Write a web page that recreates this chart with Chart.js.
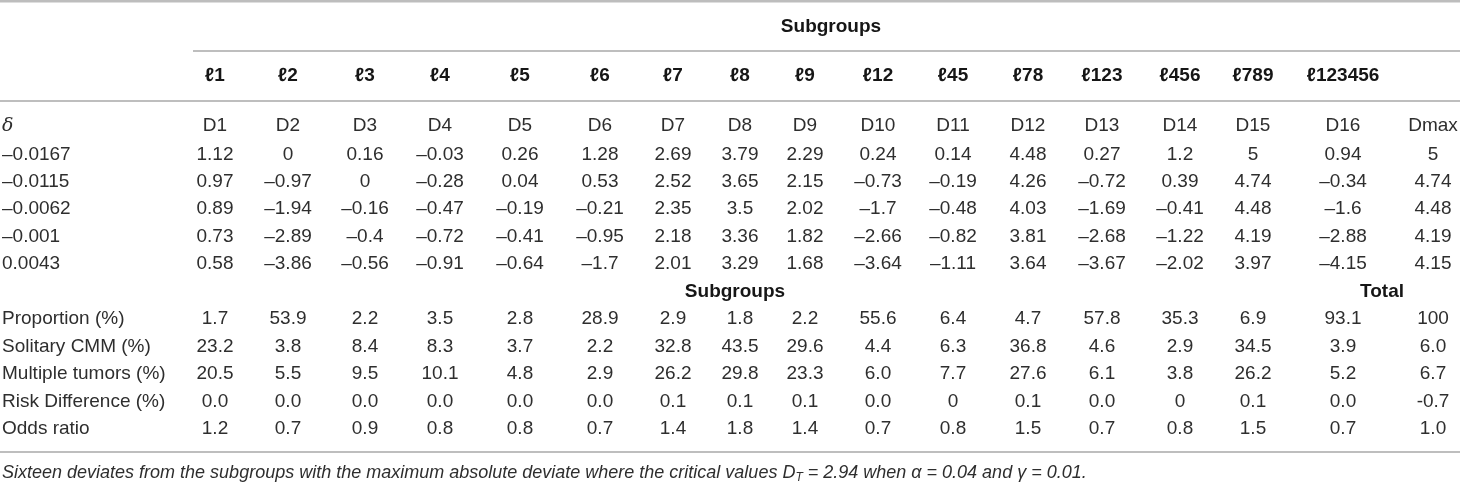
<!DOCTYPE html>
<html>
<head>
<meta charset="utf-8">
<script src="https://cdn.jsdelivr.net/npm/chart.js@4.4.1/dist/chart.umd.min.js"></script>
<style>
  html, body { margin: 0; padding: 0; background: #fff; }
  canvas { display: block; }
</style>
</head>
<body>
<canvas id="tabla" width="1460" height="484"></canvas>
<script>
// ---- datos de la tabla ----
const subgrupos = ["ℓ1", "ℓ2", "ℓ3", "ℓ4", "ℓ5", "ℓ6", "ℓ7", "ℓ8", "ℓ9", "ℓ12", "ℓ45", "ℓ78", "ℓ123", "ℓ456", "ℓ789", "ℓ123456", ""];
const desvios = ["D1", "D2", "D3", "D4", "D5", "D6", "D7", "D8", "D9", "D10", "D11", "D12", "D13", "D14", "D15", "D16", "Dmax"];
const deltas = ["–0.0167", "–0.0115", "–0.0062", "–0.001", "0.0043"];

const filaD1 = [1.12, 0, 0.16, -0.03, 0.26, 1.28, 2.69, 3.79, 2.29, 0.24, 0.14, 4.48, 0.27, 1.2, 5, 0.94, 5];
const filaD2 = [0.97, -0.97, 0, -0.28, 0.04, 0.53, 2.52, 3.65, 2.15, -0.73, -0.19, 4.26, -0.72, 0.39, 4.74, -0.34, 4.74];
const filaD3 = [0.89, -1.94, -0.16, -0.47, -0.19, -0.21, 2.35, 3.5, 2.02, -1.7, -0.48, 4.03, -1.69, -0.41, 4.48, -1.6, 4.48];
const filaD4 = [0.73, -2.89, -0.4, -0.72, -0.41, -0.95, 2.18, 3.36, 1.82, -2.66, -0.82, 3.81, -2.68, -1.22, 4.19, -2.88, 4.19];
const filaD5 = [0.58, -3.86, -0.56, -0.91, -0.64, -1.7, 2.01, 3.29, 1.68, -3.64, -1.11, 3.64, -3.67, -2.02, 3.97, -4.15, 4.15];

const etiquetasStats = ["Proportion (%)", "Solitary CMM (%)", "Multiple tumors (%)", "Risk Difference (%)", "Odds ratio"];
const proporcion = ["1.7", "53.9", "2.2", "3.5", "2.8", "28.9", "2.9", "1.8", "2.2", "55.6", "6.4", "4.7", "57.8", "35.3", "6.9", "93.1", "100"];
const solitario = ["23.2", "3.8", "8.4", "8.3", "3.7", "2.2", "32.8", "43.5", "29.6", "4.4", "6.3", "36.8", "4.6", "2.9", "34.5", "3.9", "6.0"];
const multiples = ["20.5", "5.5", "9.5", "10.1", "4.8", "2.9", "26.2", "29.8", "23.3", "6.0", "7.7", "27.6", "6.1", "3.8", "26.2", "5.2", "6.7"];
const difRiesgo = ["0.0", "0.0", "0.0", "0.0", "0.0", "0.0", "0.1", "0.1", "0.1", "0.0", "0", "0.1", "0.0", "0", "0.1", "0.0", "-0.7"];
const oddsRatio = ["1.2", "0.7", "0.9", "0.8", "0.8", "0.7", "1.4", "1.8", "1.4", "0.7", "0.8", "1.5", "0.7", "0.8", "1.5", "0.7", "1.0"];

const nota = [
  { t: "Sixteen deviates from the subgroups with the maximum absolute deviate where the critical values D" },
  { t: "T", sub: true },
  { t: " = 2.94 when α = 0.04 and γ = 0.01." }
];

// ---- disposicion (unidades de los ejes = pixeles del lienzo) ----
const ANCHO = 1460, ALTO = 484;
const colX = [215, 288, 365, 440, 520, 600, 673, 740, 805, 878, 953, 1028, 1102, 1180, 1253, 1343, 1433];
const filaY = { sub1: 27, ell: 76, delta: 126, d: [155, 182, 209, 237, 264], sub2: 292, stats: [319, 347, 374, 402, 429], nota: 473 };
const xEtiqueta = 2;

const FUENTE = '"Liberation Sans", Arial, Helvetica, sans-serif';
const normal = "19px " + FUENTE;
const negrita = "bold 19px " + FUENTE;
const cursiva = "italic 18px " + FUENTE;
const colorTexto = "#2e2e2e";
const colorNegrita = "#161616";

const fmt = (v) => String(v).replace("-", "–");

// un dataset de texto por fila: puntos invisibles colocados por las escalas
function filaTexto(y, textos, fuente, color, align) {
  return {
    data: textos.map((_, j) => ({ x: colX[j], y: y })),
    textos: textos,
    fuente: fuente || normal,
    color: color || colorTexto,
    align: align || "center",
    pointRadius: 0,
    pointHoverRadius: 0
  };
}
function celdaTexto(x, y, texto, fuente, color, align) {
  return {
    data: [{ x: x, y: y }],
    textos: [texto],
    fuente: fuente || normal,
    color: color || colorTexto,
    align: align || "left",
    pointRadius: 0,
    pointHoverRadius: 0
  };
}
function regla(x0, x1, y, ancho, color) {
  return {
    type: "line",
    data: [{ x: x0, y: y }, { x: x1, y: y }],
    borderColor: color,
    borderWidth: ancho,
    pointRadius: 0,
    showLine: true,
    fill: false
  };
}

const datasets = [];
// reglas horizontales
datasets.push(regla(0, ANCHO, 1.2, 2.5, "#bdbdbd"));
datasets.push(regla(193, ANCHO, 51, 1.3, "#a8a8a8"));
datasets.push(regla(0, ANCHO, 101, 1.3, "#a8a8a8"));
datasets.push(regla(0, ANCHO, 452, 1.3, "#a8a8a8"));

// encabezados
datasets.push(celdaTexto((colX[0] + colX[15]) / 2 + 52, filaY.sub1, "Subgroups", negrita, colorNegrita, "center"));
datasets.push(filaTexto(filaY.ell, subgrupos, negrita, colorNegrita));
datasets.push(celdaTexto(xEtiqueta, filaY.delta, "δ", "italic 19px \"DejaVu Serif\", serif"));
datasets.push(filaTexto(filaY.delta, desvios));

// filas de desvios
[filaD1, filaD2, filaD3, filaD4, filaD5].forEach((fila, i) => {
  datasets.push(celdaTexto(xEtiqueta, filaY.d[i], deltas[i]));
  datasets.push(filaTexto(filaY.d[i], fila.map(fmt)));
});

// subencabezado
datasets.push(celdaTexto(colX[7] - 5, filaY.sub2, "Subgroups", negrita, colorNegrita, "center"));
datasets.push(celdaTexto((colX[15] + colX[16]) / 2 - 6, filaY.sub2, "Total", negrita, colorNegrita, "center"));

// filas de estadisticas
[proporcion, solitario, multiples, difRiesgo, oddsRatio].forEach((fila, i) => {
  datasets.push(celdaTexto(xEtiqueta, filaY.stats[i], etiquetasStats[i]));
  datasets.push(filaTexto(filaY.stats[i], fila));
});

// nota al pie
datasets.push({
  data: [{ x: xEtiqueta, y: filaY.nota }],
  rico: nota,
  pointRadius: 0,
  pointHoverRadius: 0
});

const textoPlugin = {
  id: "textoTabla",
  afterDatasetsDraw(chart) {
    const ctx = chart.ctx;
    ctx.save();
    ctx.textBaseline = "middle";
    chart.data.datasets.forEach((ds, i) => {
      const meta = chart.getDatasetMeta(i);
      if (ds.textos) {
        ctx.font = ds.fuente;
        ctx.fillStyle = ds.color;
        ctx.textAlign = ds.align;
        meta.data.forEach((pt, j) => {
          ctx.fillText(ds.textos[j], pt.x, pt.y);
        });
      }
      if (ds.rico) {
        const pt = meta.data[0];
        let x = pt.x;
        ctx.textAlign = "left";
        ctx.fillStyle = colorTexto;
        ds.rico.forEach((seg) => {
          ctx.font = seg.sub ? "italic 12px " + FUENTE : cursiva;
          ctx.fillText(seg.t, x, pt.y + (seg.sub ? 5 : 0));
          x += ctx.measureText(seg.t).width;
        });
      }
    });
    ctx.restore();
  }
};

new Chart(document.getElementById("tabla").getContext("2d"), {
  type: "scatter",
  data: { datasets: datasets },
  options: {
    responsive: false,
    animation: false,
    events: [],
    layout: { padding: 0 },
    plugins: { legend: { display: false }, tooltip: { enabled: false } },
    scales: {
      x: { type: "linear", min: 0, max: ANCHO, display: false },
      y: { type: "linear", min: 0, max: ALTO, reverse: true, display: false }
    }
  },
  plugins: [textoPlugin]
});
</script>
</body>
</html>
